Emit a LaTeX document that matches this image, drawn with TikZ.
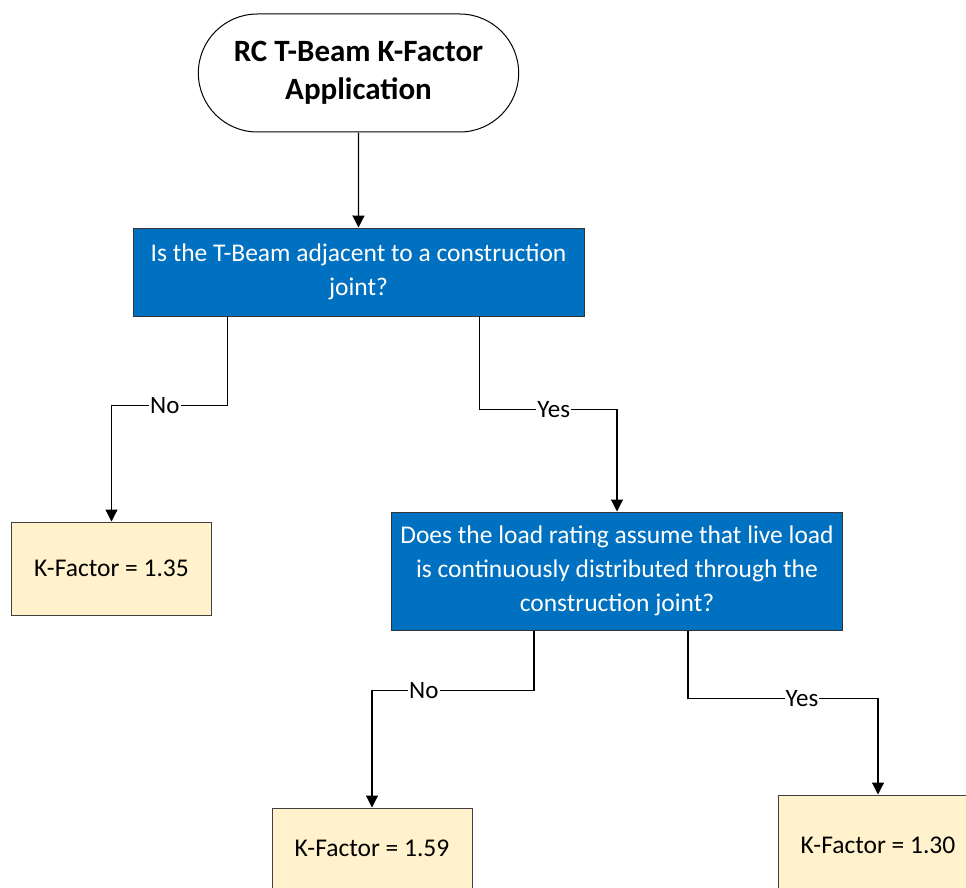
\documentclass[tikz,border=0pt]{standalone}
\usepackage{fontspec}
\setmainfont{Carlito}
\usetikzlibrary{positioning}
\usetikzlibrary{calc}
\usetikzlibrary{shapes.misc}
\usetikzlibrary{arrows.meta}
\definecolor{qblue}{HTML}{0070C0}
\definecolor{kcream}{HTML}{FFF2CC}
\begin{document}
\begin{tikzpicture}[x=1pt,y=-1pt,-{Triangle[width=12pt,length=12pt]},line width=1.2pt]
	\tikzset{startbox/.style = {shape=rounded rectangle, draw, line width=1pt, minimum width=327pt, minimum height=118pt, align=center, font=\fontsize{31}{38}\selectfont\bfseries},
		question/.style = {shape=rectangle, draw=black!80, line width=1pt, fill=qblue, text=white, minimum width=451pt, align=center, font=\fontsize{25.5}{34}\selectfont},
		kbox/.style = {shape=rectangle, draw=black!75, line width=1pt, fill=kcream, minimum width=200pt, font=\fontsize{25.5}{30}\selectfont},
		answer/.style = {fill=white, inner sep=1pt, font=\fontsize{25}{30}\selectfont}}
	\useasboundingbox (0,0) rectangle (966,888);
	\node[startbox] (START) at (358.5,73) {RC T-Beam K-Factor\\Application};
	\node[question, minimum height=88pt] (Q1) at (358.5,272) {Is the T-Beam adjacent to a construction\\joint?};
	\node[kbox, minimum height=93pt] (K135) at (111.5,568.5) {K-Factor = 1.35};
	\node[question, minimum height=118pt] (Q2) at (617,571) {Does the load rating assume that live load\\is continuously distributed through the\\construction joint?};
	\node[kbox, minimum height=80pt] (K159) at (372,848) {K-Factor = 1.59};
	\node[kbox, minimum height=100pt] (K130) at (878,845) {K-Factor = 1.30};
	
	\coordinate (Q1NO) at ([xshift=95pt]Q1.south west);
	\coordinate (Q1YES) at ([xshift=347pt]Q1.south west);
	\coordinate (Q2NO) at ([xshift=143pt]Q2.south west);
	\coordinate (Q2YES) at ([xshift=297pt]Q2.south west);
	
	\draw (START) -- (Q1);
	\draw (Q1NO) -- ++(0,89) -| node[answer, pos=0.27] {No} (K135.north);
	\draw (Q1YES) -- ++(0,93) -| node[answer, pos=0.27] {Yes} (Q2.north);
	\draw (Q2NO) -- ++(0,60) -| node[answer, pos=0.34] {No} (K159.north);
	\draw (Q2YES) -- ++(0,68) -| node[answer, pos=0.3] {Yes} (K130.north);
\end{tikzpicture}
\end{document}
